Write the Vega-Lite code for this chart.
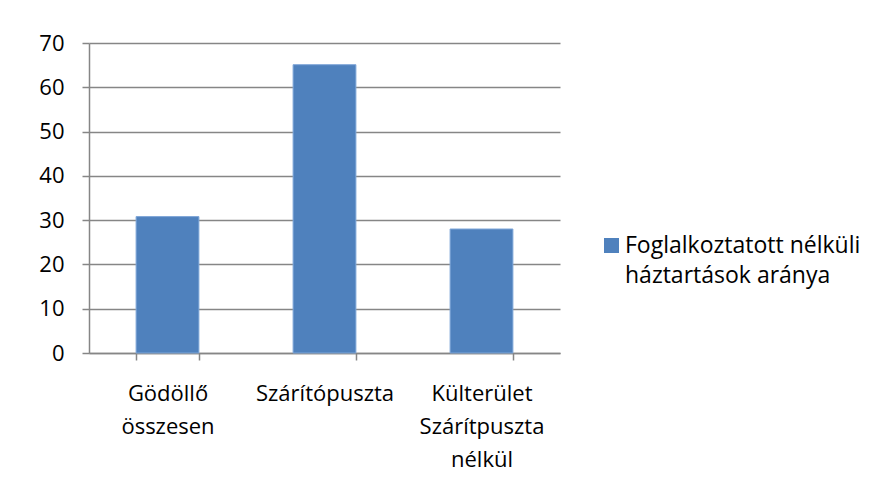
{
  "$schema": "https://vega.github.io/schema/vega-lite/v6.json",
  "width": 471,
  "height": 310,
  "autosize": "none",
  "padding": {"left": 89, "top": 43, "right": 318, "bottom": 144},
  "background": "white",
  "config": {
    "view": {"stroke": null},
    "font": "Open Sans",
    "axis": {"labelFont": "Open Sans", "labelFontSize": 22, "labelColor": "#000000"},
    "style": {"guide-label": {"lineHeight": 30}}
  },
  "data": {
    "values": [
      {"kategoria": "Gödöllő összesen", "ertek": 30.8, "sorozat": "Foglalkoztatott nélküli háztartások aránya"},
      {"kategoria": "Szárítópuszta", "ertek": 65.1, "sorozat": "Foglalkoztatott nélküli háztartások aránya"},
      {"kategoria": "Külterület Szárítpuszta nélkül", "ertek": 28.0, "sorozat": "Foglalkoztatott nélküli háztartások aránya"}
    ]
  },
  "mark": {"type": "bar", "stroke": "#7ea6d8", "strokeWidth": 1},
  "encoding": {
    "x": {
      "field": "kategoria",
      "type": "nominal",
      "sort": null,
      "title": null,
      "scale": {"paddingInner": 0.6, "paddingOuter": 0.3},
      "axis": {
        "labelAngle": 0,
        "labelExpr": "split(datum.label, ' ')",
        "labelLineHeight": 33,
        "labelPadding": 23,
        "labelLimit": 300,
        "tickBand": "extent",
        "tickColor": "#868686",
        "tickSize": 7,
        "tickWidth": 1.5,
        "domainColor": "#868686",
        "domainWidth": 1.5
      }
    },
    "y": {
      "field": "ertek",
      "type": "quantitative",
      "title": null,
      "scale": {"domain": [0, 70], "nice": false},
      "axis": {
        "values": [0, 10, 20, 30, 40, 50, 60, 70],
        "labelFontSize": 22,
        "tickColor": "#868686",
        "tickSize": 7,
        "tickWidth": 1.5,
        "domainColor": "#868686",
        "domainWidth": 1.5,
        "gridColor": "#868686",
        "gridWidth": 1.5,
        "labelPadding": 18
      }
    },
    "color": {
      "field": "sorozat",
      "type": "nominal",
      "scale": {"range": ["#4f81bd"]},
      "legend": {
        "title": null,
        "orient": "none",
        "legendX": 511,
        "legendY": 191,
        "symbolType": "square",
        "symbolSize": 225,
        "symbolStrokeWidth": 0,
        "labelFont": "Open Sans",
        "labelFontSize": 23,
        "labelColor": "#000000",
        "labelLimit": 400,
        "labelOffset": 2,
        "labelExpr": "['Foglalkoztatott nélküli', 'háztartások aránya']"
      }
    }
  }
}
